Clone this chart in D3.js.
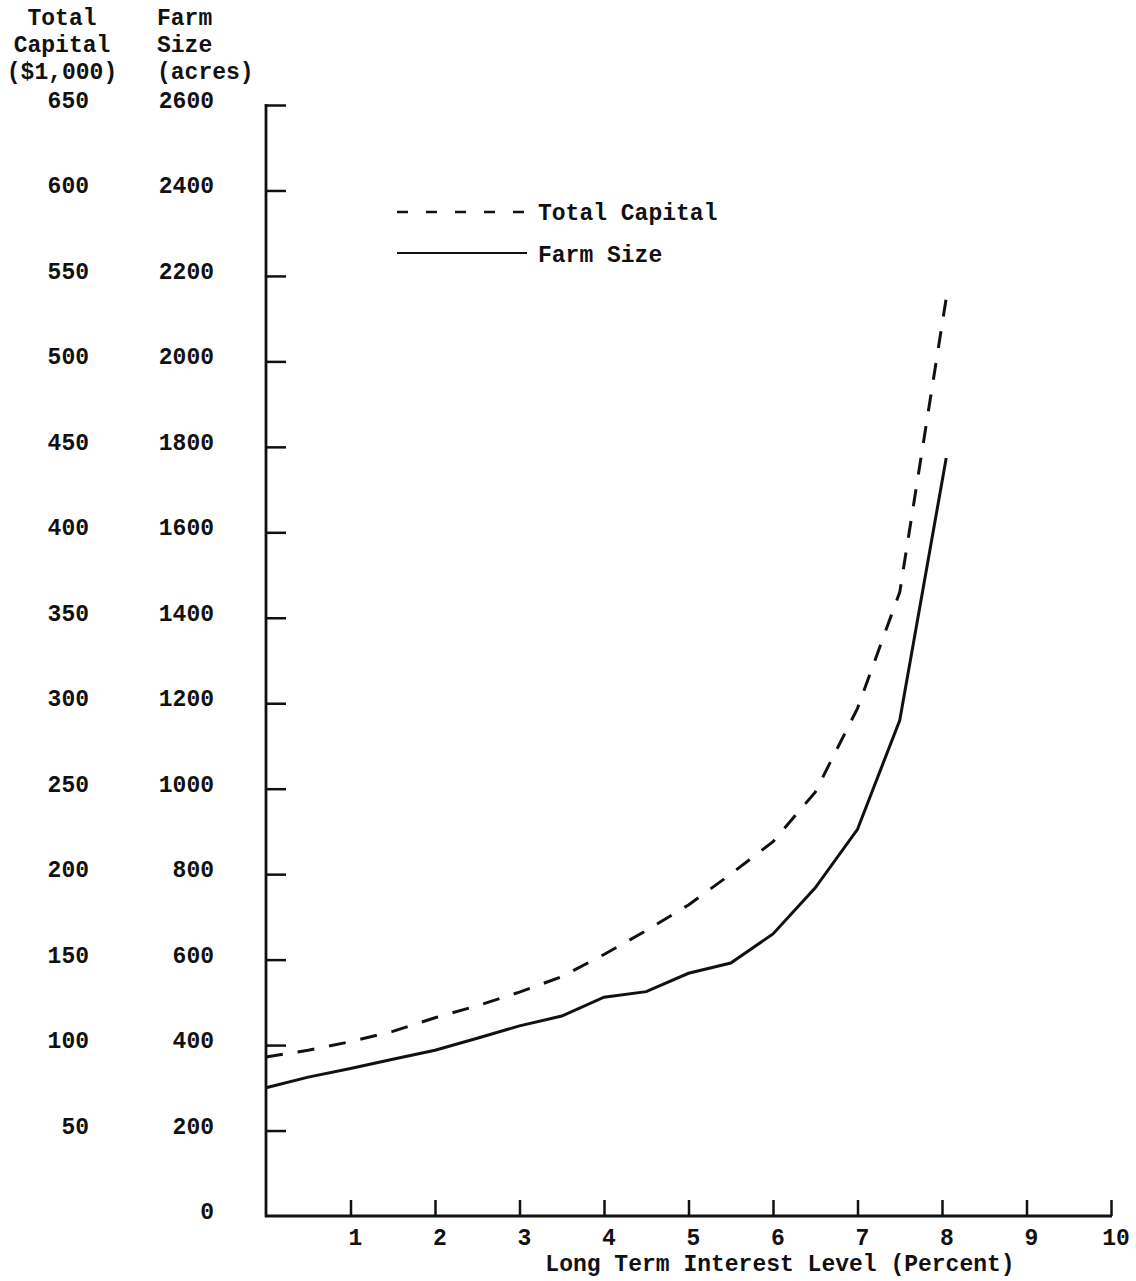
<!DOCTYPE html>
<html><head><meta charset="utf-8">
<script src="https://cdn.jsdelivr.net/npm/d3@7"></script>
<style>
html,body{margin:0;padding:0;background:#fff;}
svg text{font-family:"Liberation Mono","DejaVu Sans Mono",monospace;fill:#111;font-weight:bold;}
</style></head>
<body>
<svg id="chart" width="1136" height="1281"></svg>
<script>
// Interest rate (percent)
const interestRates = [0,0.5,1,1.5,2,2.5,3,3.5,4,4.5,5,5.5,6,6.5,7,7.5,8.05];
// Total capital ($1,000)
const totalCapital = [93,97,102,108,116,123,131,140,153,167,182,200,219,248,297,365,537];
// Farm size (acres)
const farmSize = [300,325,345,367,388,416,445,468,512,525,568,592,660,768,905,1160,1774];
const xTicks = [1,2,3,4,5,6,7,8,9,10];
const acreTicks = [0,200,400,600,800,1000,1200,1400,1600,1800,2000,2200,2400,2600];
const capitalTicks = [50,100,150,200,250,300,350,400,450,500,550,600,650];
const seriesNames = ["Total Capital","Farm Size"];

const svg = d3.select("#chart");
const x = d3.scaleLinear().domain([0,10]).range([266,1111]);
const yA = d3.scaleLinear().domain([0,2600]).range([1216,105]);
const yC = d3.scaleLinear().domain([0,650]).range([1216,105]);

const ink = "#111";
const FS = 23;
// axes
const gy = svg.append("g").attr("transform",`translate(${x(0)},0)`)
  .call(d3.axisRight(yA).tickValues(acreTicks.filter(d=>d>0)).tickSize(20).tickFormat(""));
gy.select(".domain").remove();
gy.selectAll("line").attr("stroke",ink).attr("stroke-width",2.5);
svg.append("line").attr("x1",x(0)).attr("x2",x(0)).attr("y1",yA(2600)-1).attr("y2",yA(0)+1)
  .attr("stroke",ink).attr("stroke-width",2.8);

const gx = svg.append("g").attr("transform","translate(0,1216)")
  .call(d3.axisTop(x).tickValues(xTicks).tickSize(16).tickFormat(""));
gx.select(".domain").remove();
gx.selectAll("line").attr("stroke",ink).attr("stroke-width",2.5);
svg.append("line").attr("x1",x(0)-1).attr("x2",x(10)+1).attr("y1",1216).attr("y2",1216)
  .attr("stroke",ink).attr("stroke-width",2.8);

// x tick labels
svg.append("g").selectAll("text").data(xTicks).join("text")
  .attr("x",d=>x(d)+5).attr("y",1245).attr("text-anchor","middle")
  .attr("font-size",FS).text(d=>d);
svg.append("text").attr("x",780).attr("y",1271).attr("text-anchor","middle")
  .attr("font-size",FS).text("Long Term Interest Level (Percent)");

// acre labels
svg.append("g").selectAll("text").data(acreTicks).join("text")
  .attr("x",214).attr("y",d=>yA(d)+3).attr("text-anchor","end")
  .attr("font-size",FS).text(d=>d);
// capital labels
svg.append("g").selectAll("text").data(capitalTicks).join("text")
  .attr("x",89).attr("y",d=>yC(d)+3).attr("text-anchor","end")
  .attr("font-size",FS).text(d=>d);

// headers
[["Total",25],["Capital",52],["($1,000)",79]].forEach(([t,yy])=>{
  svg.append("text").attr("x",62).attr("y",yy).attr("text-anchor","middle").attr("font-size",FS).text(t);
});
[["Farm",25],["Size",52],["(acres)",79]].forEach(([t,yy])=>{
  svg.append("text").attr("x",157).attr("y",yy).attr("font-size",FS).text(t);
});

// lines
const capLine = d3.line().x((d,i)=>x(interestRates[i])).y(d=>yC(d));
const acreLine = d3.line().x((d,i)=>x(interestRates[i])).y(d=>yA(d));
svg.append("path").attr("d",capLine(totalCapital)).attr("fill","none")
  .attr("stroke",ink).attr("stroke-width",3).attr("stroke-dasharray","17,15");
svg.append("path").attr("d",acreLine(farmSize)).attr("fill","none")
  .attr("stroke",ink).attr("stroke-width",3);

// legend
const leg = svg.append("g");
leg.append("line").attr("x1",397).attr("x2",526).attr("y1",212).attr("y2",212)
  .attr("stroke",ink).attr("stroke-width",2.5).attr("stroke-dasharray","11,18");
leg.append("line").attr("x1",397).attr("x2",527).attr("y1",253).attr("y2",253)
  .attr("stroke",ink).attr("stroke-width",2);
leg.append("text").attr("x",538).attr("y",220).attr("font-size",FS).text(seriesNames[0]);
leg.append("text").attr("x",538).attr("y",262).attr("font-size",FS).text(seriesNames[1]);
</script>
</body></html>
